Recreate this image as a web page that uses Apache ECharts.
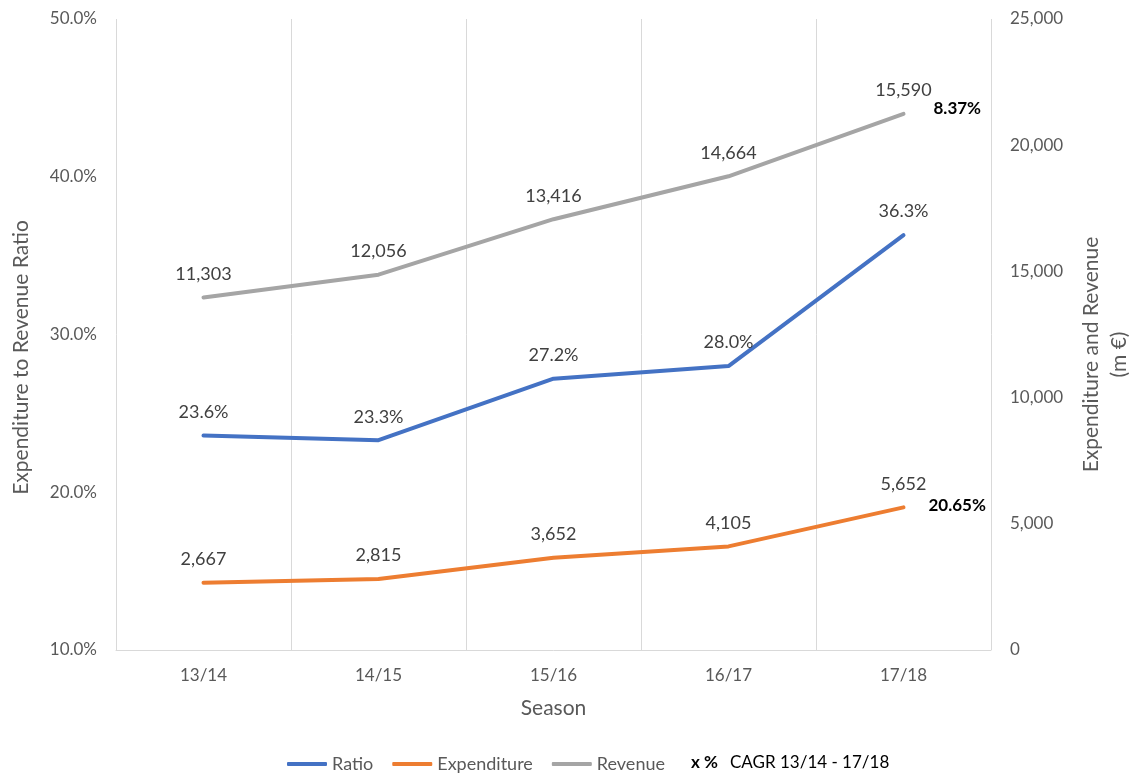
<!DOCTYPE html>
<html>
<head>
<meta charset="utf-8">
<script src="https://cdn.jsdelivr.net/npm/echarts@6/dist/echarts.min.js"></script>
<style>
    html, body {
        margin: 0;
        padding: 0;
        background: #ffffff;
    }
    #chart {
        width: 1133px;
        height: 774px;
    }
</style>
</head>
<body>
<div id="chart"></div>
<script>
    var seasons = ['13/14', '14/15', '15/16', '16/17', '17/18']
    var ratio = [23.6, 23.3, 27.2, 28.0, 36.3]
    var expenditure = [2667, 2815, 3652, 4105, 5652]
    var revenue = [11303, 12056, 13416, 14664, 15590]
    var ratioTicks = [10, 50, 10]     // min, max, interval
    var moneyTicks = [0, 25000, 5000]

    var font = 'Lato, "Open Sans", sans-serif'
    var axisGrey = '#595959'
    var labelGrey = '#404040'

    function cagr(arr) {
        var n = arr.length - 1
        return ((Math.pow(arr[n] / arr[0], 1 / n) - 1) * 100).toFixed(2) + '%'
    }
    function thousands(v) {
        return Number(v).toLocaleString('en-US')
    }

    // line with hidden symbols so the data labels still render
    function lineSeries(name, color, data, axis, fmt) {
        return {
            name: name,
            type: 'line',
            yAxisIndex: axis,
            data: data,
            symbol: 'circle',
            symbolSize: 1,
            showSymbol: true,
            color: color,
            itemStyle: {
                color: color
            },
            lineStyle: {
                width: 4,
                cap: 'round'
            },
            label: {
                show: true,
                position: 'top',
                distance: 14,
                color: labelGrey,
                fontSize: 18,
                formatter: function (p) {
                    return fmt(p.value)
                }
            }
        }
    }

    var chart = echarts.init(document.getElementById('chart'))

    var ratioLine = lineSeries('Ratio', '#4472c4', ratio, 0, function (v) {
        return v.toFixed(1) + '%'
    })
    var expLine = lineSeries('Expenditure', '#ed7d31', expenditure, 1, thousands)
    expLine.stack = 'money'
    expLine.endLabel = {
        show: true,
        distance: 25,
        offset: [0, -2],
        color: '#000000',
        fontWeight: 'bold',
        fontSize: 17,
        formatter: function () {
            return cagr(expenditure)
        }
    }
    var revLine = lineSeries('Revenue', '#a5a5a5', revenue, 1, thousands)
    revLine.stack = 'money'
    revLine.endLabel = {
        show: true,
        distance: 30,
        offset: [0, -5],
        color: '#000000',
        fontWeight: 'bold',
        fontSize: 17,
        formatter: function () {
            return cagr(revenue)
        }
    }

    var option = {
        backgroundColor: '#ffffff',
        animation: false,
        textStyle: {
            fontFamily: font
        },
        grid: {
            left: 116,
            right: 142,
            top: 19,
            bottom: 124,
            outerBoundsMode: 'none'
        },
        legend: {
            left: 282,
            top: 750,
            itemWidth: 40,
            itemHeight: 4,
            itemGap: 19,
            icon: 'roundRect',
            textStyle: {
                color: axisGrey,
                fontSize: 18,
                fontFamily: font
            },
            data: ['Ratio', 'Expenditure', 'Revenue']
        },
        graphic: [
            {
                type: 'text',
                left: 691,
                top: 754,
                style: {
                    text: 'x %',
                    fill: '#000000',
                    font: 'bold 17px ' + font
                }
            },
            {
                type: 'text',
                left: 730,
                top: 754,
                style: {
                    text: 'CAGR 13/14 - 17/18',
                    fill: '#000000',
                    font: '17px ' + font
                }
            }
        ],
        xAxis: {
            type: 'category',
            data: seasons,
            boundaryGap: true,
            name: 'Season',
            nameLocation: 'middle',
            nameGap: 48,
            nameTextStyle: {
                color: axisGrey,
                fontSize: 21
            },
            axisLine: {
                lineStyle: {
                    color: '#d9d9d9',
                    width: 1
                }
            },
            axisTick: {
                show: false
            },
            axisLabel: {
                color: axisGrey,
                fontSize: 17,
                margin: 17
            },
            splitLine: {
                show: true,
                lineStyle: {
                    color: '#d9d9d9',
                    width: 1
                }
            }
        },
        yAxis: [
            {
                type: 'value',
                position: 'left',
                min: ratioTicks[0],
                max: ratioTicks[1],
                interval: ratioTicks[2],
                name: 'Expenditure to Revenue Ratio',
                nameLocation: 'middle',
                nameGap: 84,
                nameTextStyle: {
                    color: axisGrey,
                    fontSize: 21,
                    padding: [0, 46, 0, 0]
                },
                axisLine: {
                    show: false
                },
                axisTick: {
                    show: false
                },
                splitLine: {
                    show: false
                },
                axisLabel: {
                    color: axisGrey,
                    fontSize: 17,
                    margin: 19,
                    formatter: function (v) {
                        return v.toFixed(1) + '%'
                    }
                }
            },
            {
                type: 'value',
                position: 'right',
                min: moneyTicks[0],
                max: moneyTicks[1],
                interval: moneyTicks[2],
                name: 'Expenditure and Revenue\n(m €)',
                nameLocation: 'middle',
                nameGap: 86,
                nameTextStyle: {
                    color: axisGrey,
                    fontSize: 21,
                    lineHeight: 28,
                    padding: [0, 40, 0, 0]
                },
                axisLine: {
                    show: false
                },
                axisTick: {
                    show: false
                },
                splitLine: {
                    show: false
                },
                axisLabel: {
                    color: axisGrey,
                    fontSize: 17,
                    margin: 19,
                    formatter: thousands
                }
            }
        ],
        series: [ratioLine, expLine, revLine]
    }

    chart.setOption(option)
</script>
</body>
</html>
